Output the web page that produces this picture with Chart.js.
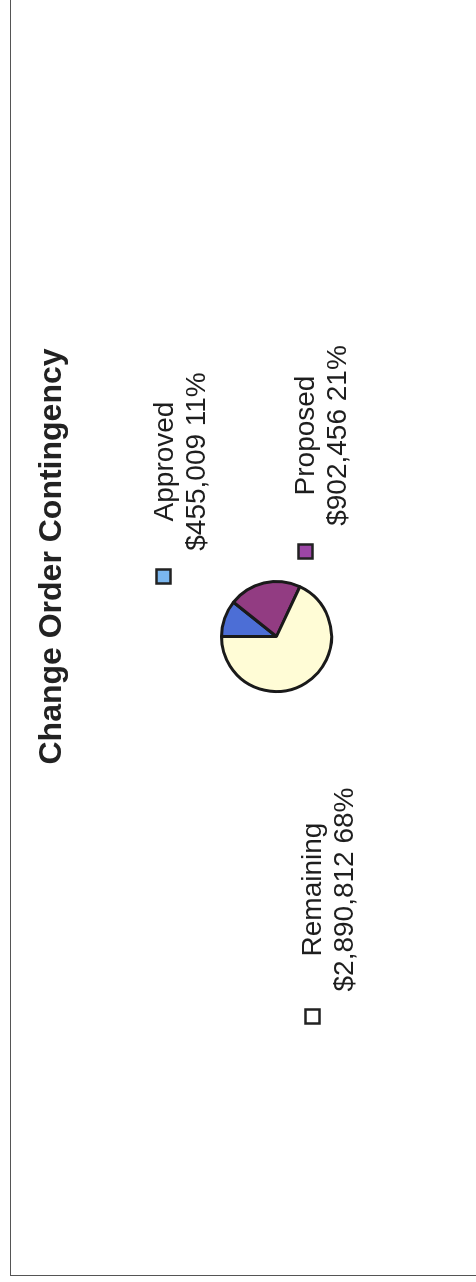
<!DOCTYPE html>
<html>
<head>
<meta charset="utf-8">
<script src="https://cdn.jsdelivr.net/npm/chart.js@4"></script>
<style>
  html, body { margin: 0; padding: 0; background: #fff; overflow: hidden; }
  #wrap {
    position: absolute; left: 0; top: 0;
    width: 1282px; height: 476px;
    transform-origin: top left;
    transform: translate(0, 1282px) rotate(-90deg);
  }
  #frame {
    position: absolute; left: 6px; top: 10px; right: -10px; bottom: -10px;
    border: 1.5px solid #555;
  }
  canvas { position: absolute; left: 0; top: 0; }
</style>
</head>
<body>
<div id="wrap">
  <div id="frame"></div>
  <canvas id="myC" width="1282" height="476"></canvas>
</div>
<script>
const titulo = 'Change Order Contingency';
const categorias = ['Approved', 'Proposed', 'Remaining'];
const valores = [455009, 902456, 2890812];
const percentuais = ['11%', '21%', '68%'];

const corFatia = ['#4c6ed6', '#923c82', '#fffcd6'];
const corChave = ['#7ab6ee', '#9c46a6', '#ffffff'];

// label block offsets from pie centre (unrotated frame)
const posRotulo = [
  { dx: 175, dy: -95, kx: 60, ky: -113 },
  { dx: 201, dy: 46, kx: 85, ky: 29 },
  { dx: -253, dy: 53, kx: -380, ky: 36 }
];

const fmt = v => '$' + v.toLocaleString('en-US');

const rotulos = {
  id: 'rotulos',
  afterDraw(chart) {
    const c = chart.ctx;
    const arc = chart.getDatasetMeta(0).data[0];
    const cx = arc.x, cy = arc.y;
    c.save();
    c.fillStyle = '#222';
    c.textAlign = 'center';
    c.textBaseline = 'middle';
    c.font = 'bold 32px "Liberation Sans", Arial, sans-serif';
    c.fillText(titulo, cx + 80, cy - 224);

    c.font = '28px "Liberation Sans", Arial, sans-serif';
    categorias.forEach((nome, i) => {
      const p = posRotulo[i];
      c.fillStyle = '#1e1e1e';
      c.fillText(nome, cx + p.dx, cy + p.dy - 16);
      c.fillText(fmt(valores[i]) + ' ' + percentuais[i], cx + p.dx, cy + p.dy + 16);
      c.fillStyle = corChave[i];
      c.fillRect(cx + p.kx - 7, cy + p.ky - 7, 14, 14);
      c.strokeStyle = '#222';
      c.lineWidth = 2.5;
      c.strokeRect(cx + p.kx - 7, cy + p.ky - 7, 14, 14);
    });
    c.restore();
  }
};

const ctx = document.querySelector('#myC').getContext('2d');
new Chart(ctx, {
  type: 'pie',
  data: {
    labels: categorias,
    datasets: [{
      data: valores,
      backgroundColor: corFatia,
      borderColor: '#1a1a1a',
      borderWidth: 3
    }]
  },
  options: {
    responsive: false,
    animation: false,
    devicePixelRatio: 1,
    layout: { padding: { left: 589, right: 580, top: 220, bottom: 143 } },
    plugins: {
      legend: { display: false },
      tooltip: { enabled: false }
    }
  },
  plugins: [rotulos]
});
</script>
</body>
</html>
